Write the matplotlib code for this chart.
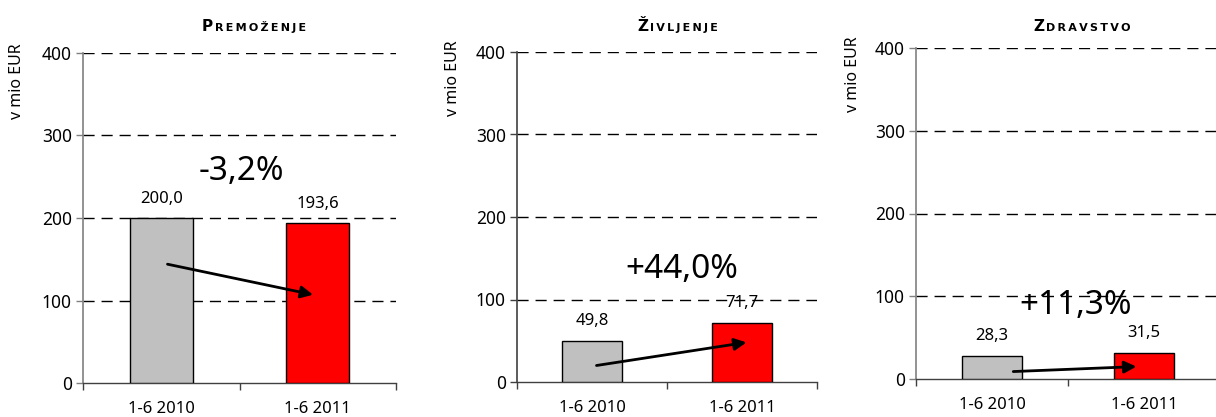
import matplotlib.pyplot as plt
from matplotlib.ticker import FixedLocator

plt.rcParams["font.family"] = ["Noto Sans", "DejaVu Sans"]

# data
categories = ["1-6 2010", "1-6 2011"]
titles = ["Premoženje", "Življenje", "Zdravstvo"]
values_2010 = [200.0, 49.8, 28.3]
values_2011 = [193.6, 71.7, 31.5]
growth_labels = ["-3,2%", "+44,0%", "+11,3%"]
growth_pos = [(0.51, 256), (0.60, 136), (0.55, 89)]
arrow_start = [(0.04, 144), (0.03, 20), (0.14, 9)]
arrow_end = [(0.97, 107), (1.03, 48), (0.95, 15)]
y_ticks = [0, 100, 200, 300, 400]

bar_colors = ["#c0c0c0", "#ff0000"]

W, H = 1216, 417
fig = plt.figure(figsize=(W / 100, H / 100), dpi=100)
renderer = fig.canvas.get_renderer()

# axes boxes in pixels: left, top, right, bottom
boxes = [(83, 53, 396, 383), (517, 52, 817, 382), (916, 48, 1220, 379)]
title_left = [202, 637, 1033]
ylabel_pos = [(17, 43), (453, 40), (853, 36)]
left_spine = ["#808080", "#404040", "#808080"]
title_font = ["DejaVu Sans"]


def fmt(v):
    return f"{v:.1f}".replace(".", ",")


for i, (l, t, r, b) in enumerate(boxes):
    ax = fig.add_axes([l / W, (H - b) / H, (r - l) / W, (b - t) / H])
    vals = [values_2010[i], values_2011[i]]
    ax.bar([0, 1], vals, width=0.4, color=bar_colors, edgecolor="black",
           linewidth=1, zorder=3)
    ax.set_xlim(-0.5, 1.5)
    ax.set_ylim(0, 400)

    for x, v in zip([0, 1], vals):
        ax.annotate(fmt(v), (x, v), xytext=(0, 14), textcoords="offset points",
                    ha="center", va="center", fontsize=12)

    gx, gy = growth_pos[i]
    ax.text(gx, gy, growth_labels[i], ha="center", va="center", fontsize=24,
            zorder=5)
    ax.annotate("", xy=arrow_end[i], xytext=arrow_start[i],
                arrowprops=dict(arrowstyle="-|>", lw=2, color="black",
                                mutation_scale=18, shrinkA=0, shrinkB=0),
                zorder=6, annotation_clip=False)

    # y axis
    ax.set_yticks(y_ticks)
    ax.tick_params(axis="y", length=5, width=1, pad=3, labelsize=12.5,
                   color=left_spine[i])
    for yv in y_ticks[1:]:
        ax.axhline(yv, color="black", lw=1, linestyle=(0, (8, 5)), zorder=1)

    # x axis: labels at categories, ticks at boundaries
    ax.set_xticks([0, 1])
    ax.set_xticklabels(categories)
    ax.xaxis.set_minor_locator(FixedLocator([-0.5, 0.5, 1.5]))
    ax.tick_params(axis="x", which="major", length=0, pad=13, labelsize=12)
    ax.tick_params(axis="x", which="minor", length=5, width=1, color="#404040")

    for s in ["top", "right"]:
        ax.spines[s].set_visible(False)
    ax.spines["left"].set_color(left_spine[i])
    ax.spines["left"].set_linewidth(1.2)
    ax.spines["bottom"].set_color("#404040")
    ax.spines["bottom"].set_linewidth(1)

    # small-caps title: big first letter, rest smaller and letter-spaced
    name = titles[i]
    base_y = (H - 31) / H
    first = fig.text(title_left[i] / W, base_y, name[0].upper(),
                     fontsize=11, fontweight="bold", family=title_font,
                     ha="left", va="baseline")
    w = first.get_window_extent(renderer).width
    rest = "\u2009".join(name[1:].upper())
    fig.text((title_left[i] + w + 1.5) / W, base_y, rest, fontsize=8,
             fontweight="bold", family=title_font, ha="left", va="baseline")

    yx, yt = ylabel_pos[i]
    fig.text(yx / W, (H - yt) / H, "v mio EUR", rotation=90, ha="center",
             va="top", fontsize=11.5)

fig.savefig("out.png", dpi=100)
